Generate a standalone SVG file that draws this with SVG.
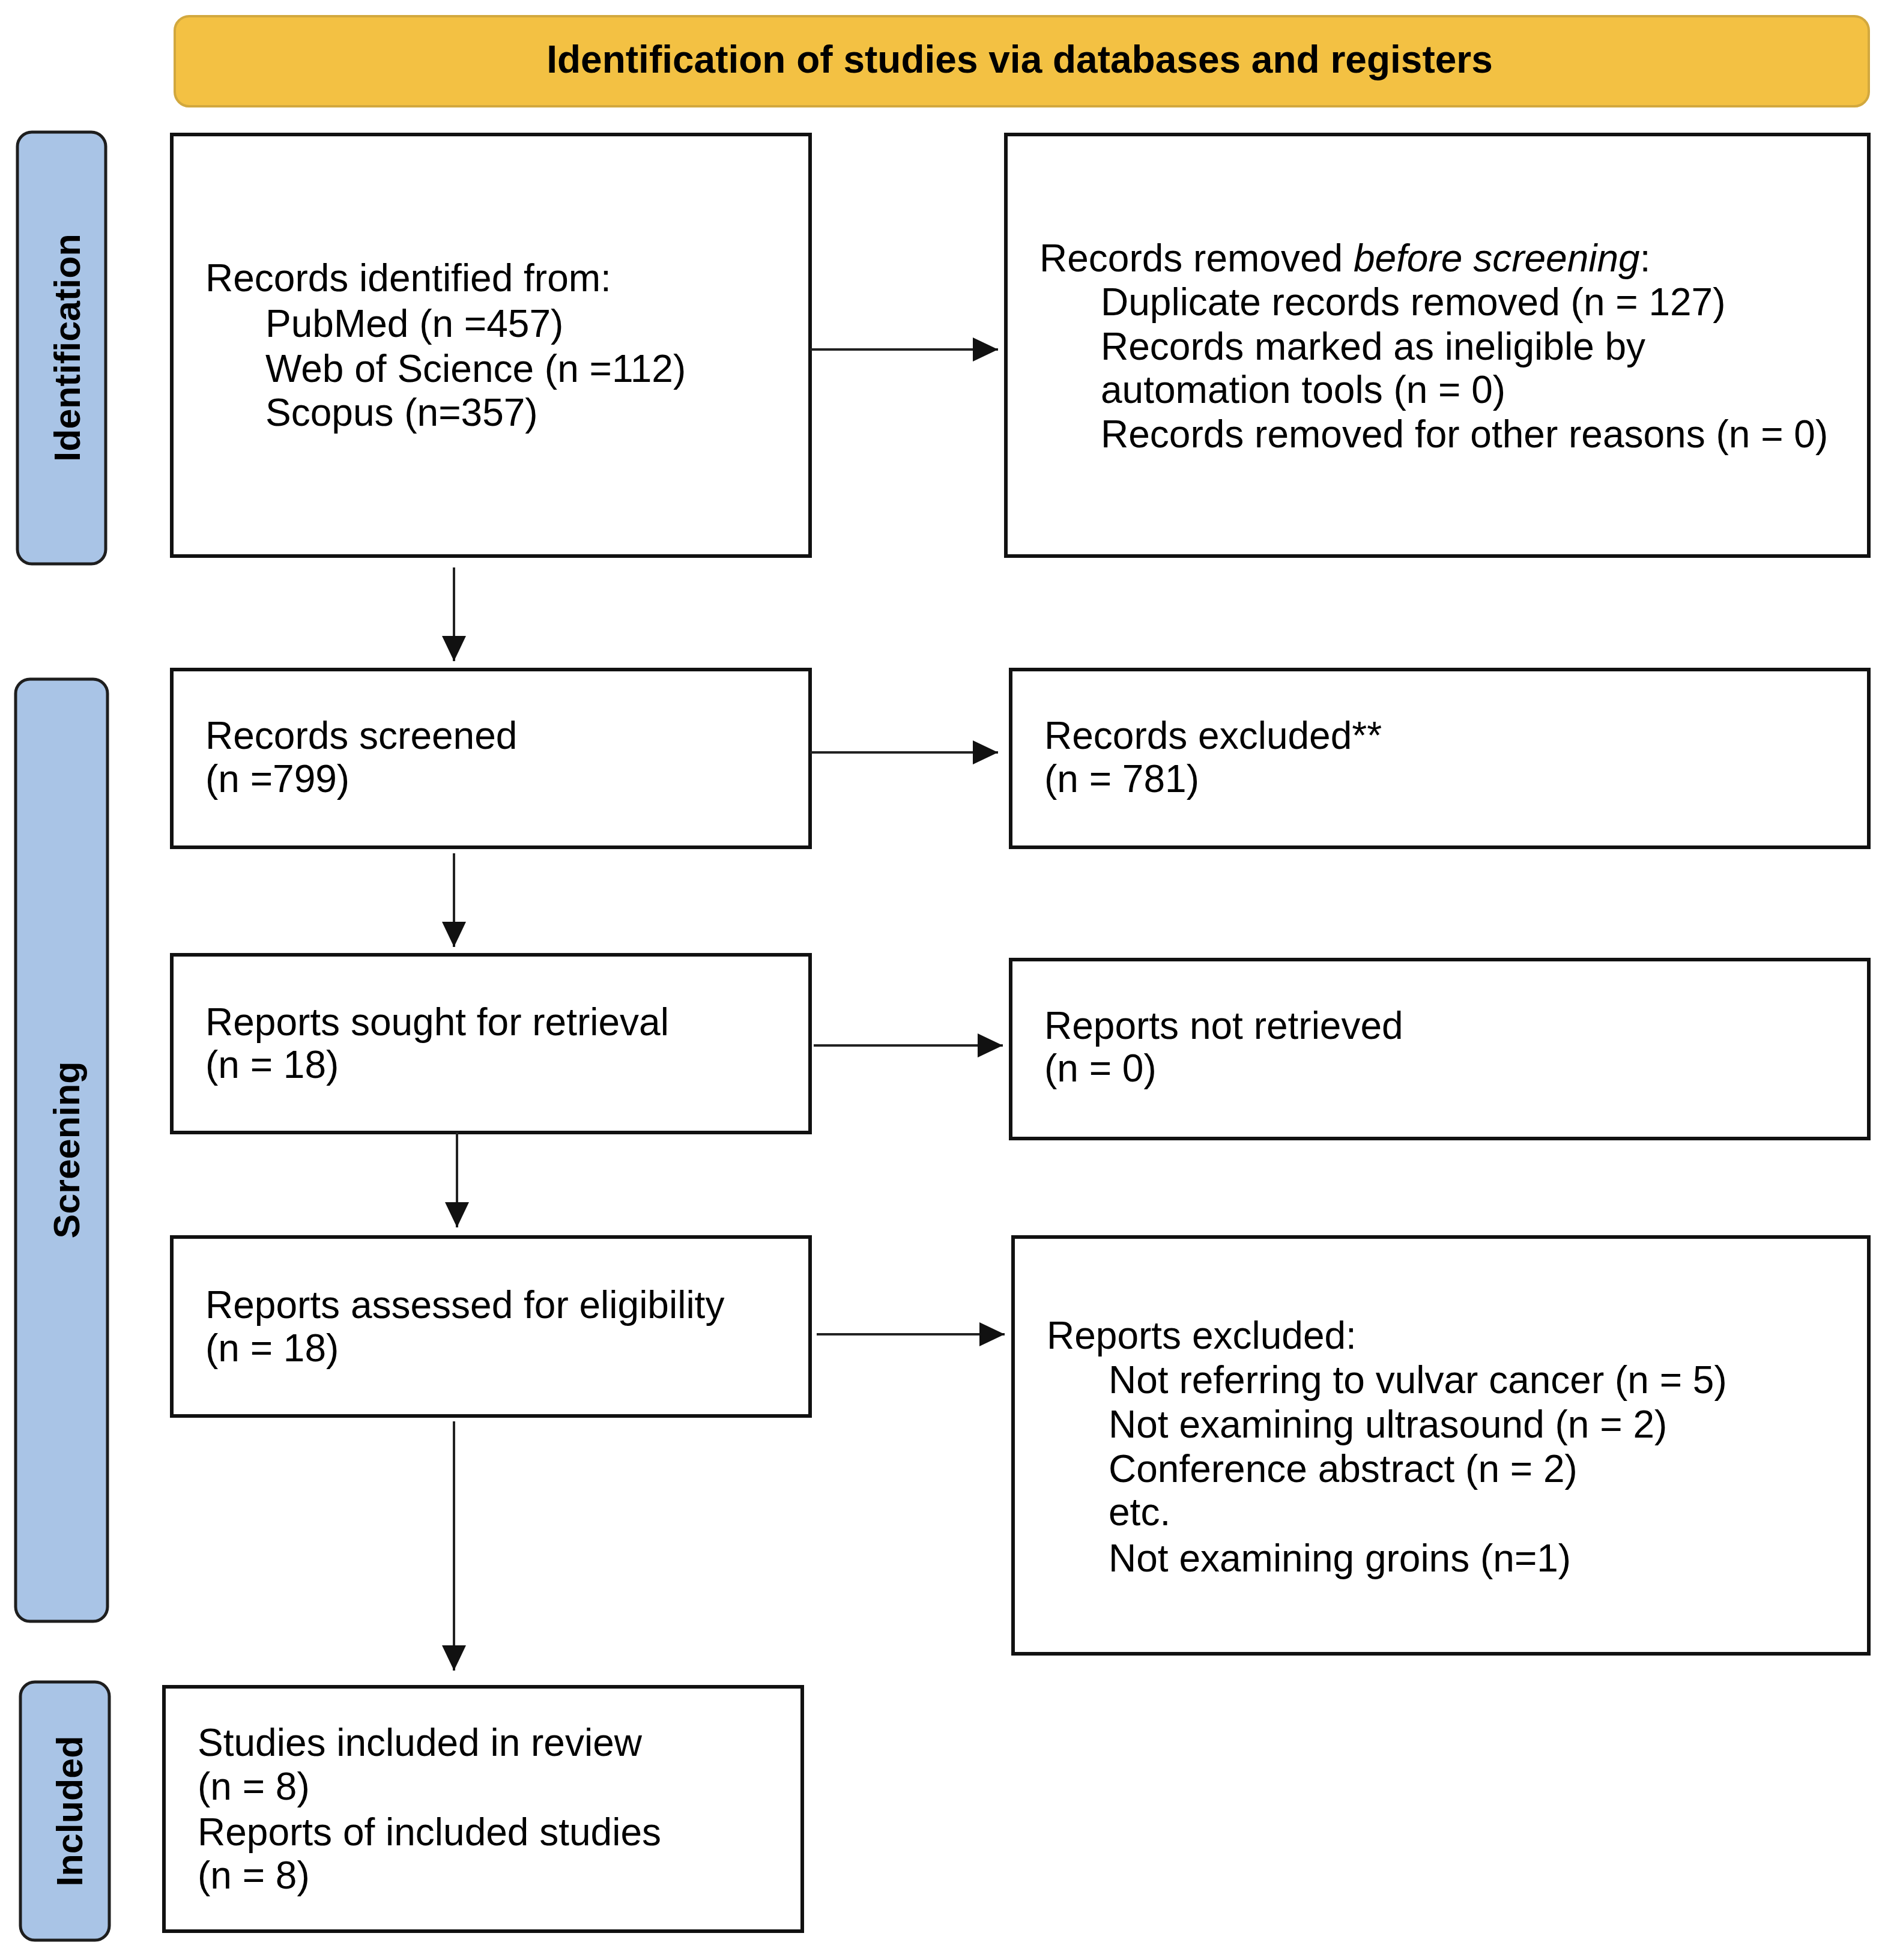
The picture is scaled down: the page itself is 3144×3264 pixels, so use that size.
<svg xmlns="http://www.w3.org/2000/svg" width="3144" height="3264" viewBox="0 0 3144 3264">
<style>
.box{fill:#fff;stroke:#111;stroke-width:6}
.lane{fill:#A9C4E6;stroke:#1e1e1e;stroke-width:5}
.banner{fill:#F3C143;stroke:#D2A83E;stroke-width:4}
.t{font-family:"Liberation Sans",Arial,sans-serif;font-size:64px;fill:#000}
.lt{font-family:"Liberation Sans",Arial,sans-serif;font-size:61px;font-weight:bold;fill:#000}
.bt{font-family:"Liberation Sans",Arial,sans-serif;font-size:64px;font-weight:bold;fill:#000}
.c{fill:none;stroke:#222;stroke-width:4}
</style>
<defs>
<marker id="ah" viewBox="0 0 42 40" refX="42" refY="20" markerWidth="42" markerHeight="40" markerUnits="userSpaceOnUse" orient="auto">
<path d="M0 0 L42 20 L0 40 Z" fill="#111"/>
</marker>
</defs>
<rect width="3144" height="3264" fill="#fff"/>
<g id="banner">
<rect class="banner" x="291" y="27" width="2821" height="150" rx="24"/>
<text class="bt" x="1698" y="121" text-anchor="middle">Identification of studies via databases and registers</text>
</g>
<g id="lane-identification">
<rect class="lane" x="29" y="220" width="147" height="719" rx="24"/>
<text class="lt" transform="translate(133 579) rotate(-90)" text-anchor="middle">Identification</text>
</g>
<g id="lane-screening">
<rect class="lane" x="26" y="1131" width="153" height="1569" rx="24"/>
<text class="lt" transform="translate(132 1915) rotate(-90)" text-anchor="middle">Screening</text>
</g>
<g id="lane-included">
<rect class="lane" x="34" y="2801" width="148" height="430" rx="24"/>
<text class="lt" transform="translate(137 3016) rotate(-90)" text-anchor="middle">Included</text>
</g>
<g id="records-identified">
<rect class="box" x="286" y="224" width="1063" height="702"/>
<text class="t" x="342" y="485">Records identified from:</text>
<text class="t" x="442" y="561">PubMed (n =457)</text>
<text class="t" x="442" y="636">Web of Science (n =112)</text>
<text class="t" x="442" y="709">Scopus (n=357)</text>
</g>
<g id="records-removed">
<rect class="box" x="1675" y="224" width="1437" height="702"/>
<text class="t" x="1731" y="452">Records removed <tspan font-style="italic">before screening</tspan>:</text>
<text class="t" x="1833" y="525">Duplicate records removed (n = 127)</text>
<text class="t" x="1833" y="599">Records marked as ineligible by</text>
<text class="t" x="1833" y="671">automation tools (n = 0)</text>
<text class="t" x="1833" y="745">Records removed for other reasons (n = 0)</text>
</g>
<g id="records-screened">
<rect class="box" x="286" y="1115" width="1063" height="296"/>
<text class="t" x="342" y="1247">Records screened</text>
<text class="t" x="342" y="1319">(n =799)</text>
</g>
<g id="records-excluded">
<rect class="box" x="1683" y="1115" width="1429" height="296"/>
<text class="t" x="1739" y="1247">Records excluded**</text>
<text class="t" x="1739" y="1319">(n = 781)</text>
</g>
<g id="reports-sought">
<rect class="box" x="286" y="1590" width="1063" height="296"/>
<text class="t" x="342" y="1724">Reports sought for retrieval</text>
<text class="t" x="342" y="1795">(n = 18)</text>
</g>
<g id="reports-not-retrieved">
<rect class="box" x="1683" y="1598" width="1429" height="298"/>
<text class="t" x="1739" y="1730">Reports not retrieved</text>
<text class="t" x="1739" y="1801">(n = 0)</text>
</g>
<g id="reports-assessed">
<rect class="box" x="286" y="2060" width="1063" height="298"/>
<text class="t" x="342" y="2195">Reports assessed for eligibility</text>
<text class="t" x="342" y="2267">(n = 18)</text>
</g>
<g id="reports-excluded">
<rect class="box" x="1687" y="2060" width="1425" height="694"/>
<text class="t" x="1743" y="2246">Reports excluded:</text>
<text class="t" x="1846" y="2320">Not referring to vulvar cancer (n = 5)</text>
<text class="t" x="1846" y="2394">Not examining ultrasound (n = 2)</text>
<text class="t" x="1846" y="2468">Conference abstract (n = 2)</text>
<text class="t" x="1846" y="2540">etc.</text>
<text class="t" x="1846" y="2617">Not examining groins (n=1)</text>
</g>
<g id="studies-included">
<rect class="box" x="273" y="2809" width="1063" height="407"/>
<text class="t" x="329" y="2924">Studies included in review</text>
<text class="t" x="329" y="2997">(n = 8)</text>
<text class="t" x="329" y="3073">Reports of included studies</text>
<text class="t" x="329" y="3145">(n = 8)</text>
</g>
<g id="connectors">
<path class="c" d="M1349 582 H1662" marker-end="url(#ah)"/>
<path class="c" d="M756 945 V1101" marker-end="url(#ah)"/>
<path class="c" d="M1349 1253 H1662" marker-end="url(#ah)"/>
<path class="c" d="M756 1421 V1577" marker-end="url(#ah)"/>
<path class="c" d="M1355 1741 H1670" marker-end="url(#ah)"/>
<path class="c" d="M761 1886 V2044" marker-end="url(#ah)"/>
<path class="c" d="M1360 2222 H1673" marker-end="url(#ah)"/>
<path class="c" d="M756 2367 V2782" marker-end="url(#ah)"/>
</g>
</svg>
